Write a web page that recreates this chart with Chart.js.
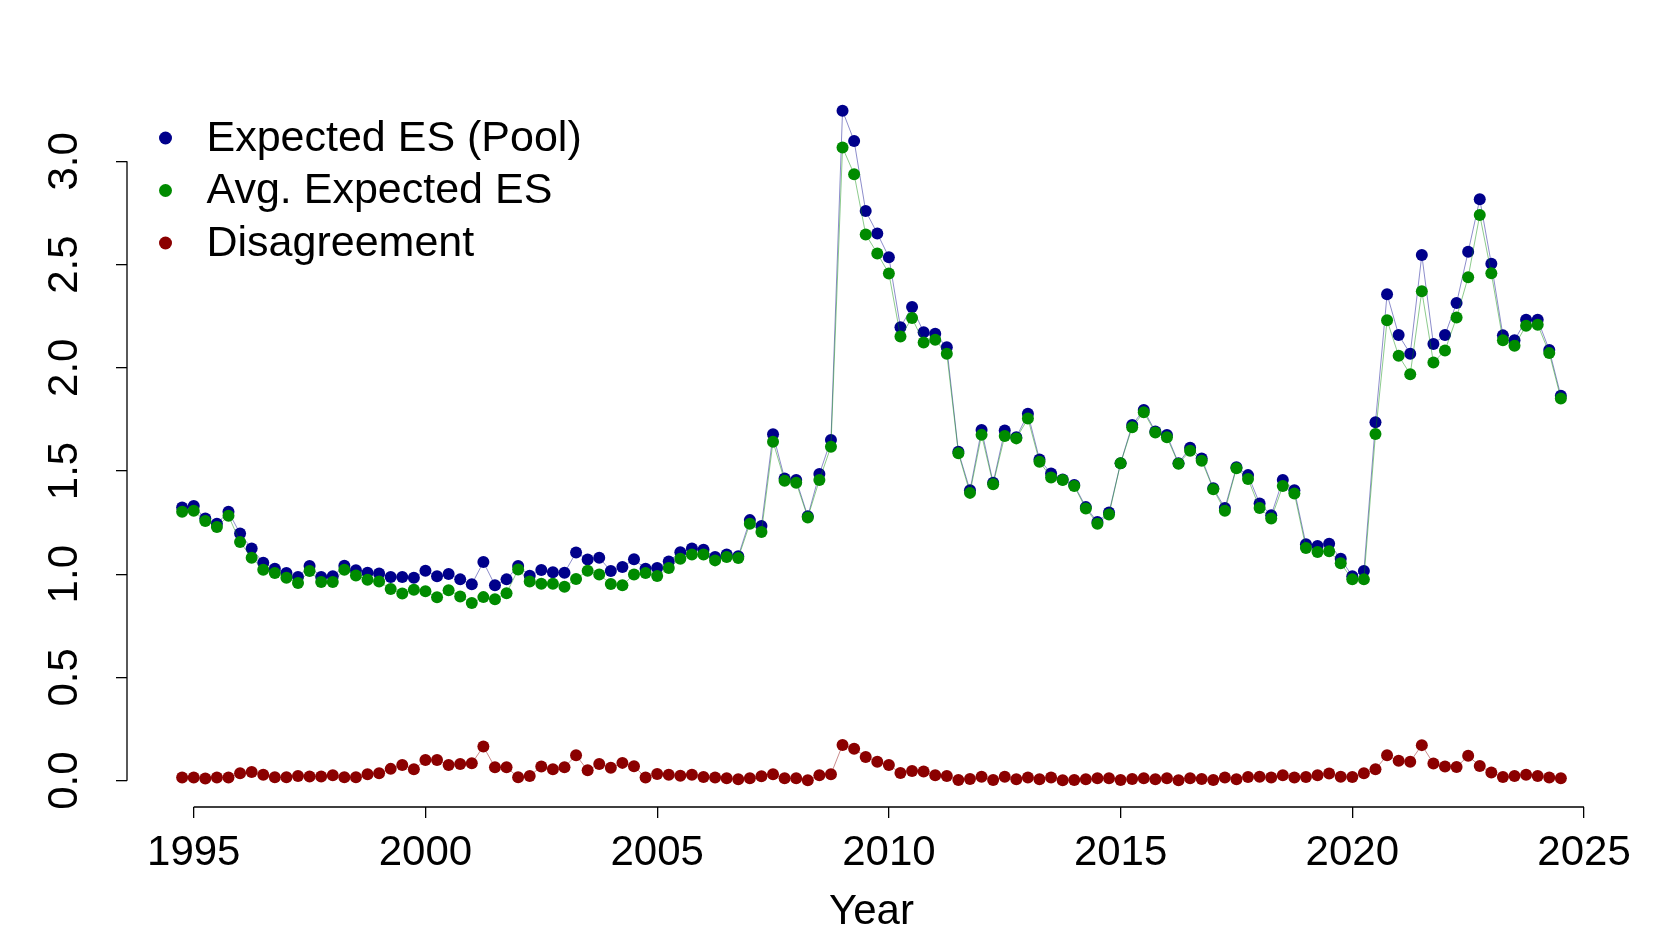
<!DOCTYPE html>
<html><head><meta charset="utf-8">
<script src="https://cdn.jsdelivr.net/npm/chart.js@4.4.1/dist/chart.umd.min.js"></script>
<style>html,body{margin:0;padding:0;background:#fff}canvas{display:block}</style>
</head><body>
<canvas id="c" width="1661" height="934"></canvas>
<script>
// Quarterly observation dates (decimal years)
const quarters = [
  1994.75,
  1995.00, 1995.25, 1995.50, 1995.75,
  1996.00, 1996.25, 1996.50, 1996.75,
  1997.00, 1997.25, 1997.50, 1997.75,
  1998.00, 1998.25, 1998.50, 1998.75,
  1999.00, 1999.25, 1999.50, 1999.75,
  2000.00, 2000.25, 2000.50, 2000.75,
  2001.00, 2001.25, 2001.50, 2001.75,
  2002.00, 2002.25, 2002.50, 2002.75,
  2003.00, 2003.25, 2003.50, 2003.75,
  2004.00, 2004.25, 2004.50, 2004.75,
  2005.00, 2005.25, 2005.50, 2005.75,
  2006.00, 2006.25, 2006.50, 2006.75,
  2007.00, 2007.25, 2007.50, 2007.75,
  2008.00, 2008.25, 2008.50, 2008.75,
  2009.00, 2009.25, 2009.50, 2009.75,
  2010.00, 2010.25, 2010.50, 2010.75,
  2011.00, 2011.25, 2011.50, 2011.75,
  2012.00, 2012.25, 2012.50, 2012.75,
  2013.00, 2013.25, 2013.50, 2013.75,
  2014.00, 2014.25, 2014.50, 2014.75,
  2015.00, 2015.25, 2015.50, 2015.75,
  2016.00, 2016.25, 2016.50, 2016.75,
  2017.00, 2017.25, 2017.50, 2017.75,
  2018.00, 2018.25, 2018.50, 2018.75,
  2019.00, 2019.25, 2019.50, 2019.75,
  2020.00, 2020.25, 2020.50, 2020.75,
  2021.00, 2021.25, 2021.50, 2021.75,
  2022.00, 2022.25, 2022.50, 2022.75,
  2023.00, 2023.25, 2023.50, 2023.75,
  2024.00, 2024.25, 2024.50
];

const expectedPool = [
  1.323,
  1.330, 1.270, 1.245, 1.302,
  1.197, 1.124, 1.056, 1.027,
  1.006, 0.986, 1.040, 0.986,
  0.990, 1.041, 1.019, 1.007,
  1.003, 0.986, 0.986, 0.983,
  1.017, 0.990, 1.001, 0.975,
  0.951, 1.059, 0.947, 0.975,
  1.040, 0.993, 1.020, 1.010,
  1.007, 1.105, 1.071, 1.080,
  1.015, 1.035, 1.072, 1.027,
  1.030, 1.062, 1.106, 1.124,
  1.119, 1.083, 1.095, 1.087,
  1.262, 1.234, 1.678, 1.464,
  1.456, 1.281, 1.485, 1.650,
  3.245, 3.099, 2.759, 2.651,
  2.536, 2.196, 2.295, 2.172,
  2.165, 2.099, 1.593, 1.407,
  1.699, 1.443, 1.696, 1.663,
  1.777, 1.556, 1.488, 1.459,
  1.432, 1.325, 1.253, 1.299,
  1.538, 1.723, 1.796, 1.691,
  1.674, 1.538, 1.613, 1.561,
  1.416, 1.321, 1.518, 1.480,
  1.343, 1.286, 1.456, 1.407,
  1.145, 1.137, 1.148, 1.075,
  0.990, 1.015, 1.736, 2.356,
  2.159, 2.068, 2.546, 2.115,
  2.159, 2.314, 2.562, 2.816,
  2.504, 2.157, 2.133, 2.233,
  2.233, 2.086, 1.864
];

const avgExpected = [
  1.302,
  1.307, 1.258, 1.229, 1.283,
  1.156, 1.080, 1.022, 1.006,
  0.983, 0.957, 1.015, 0.962,
  0.962, 1.022, 0.994, 0.973,
  0.965, 0.928, 0.907, 0.925,
  0.917, 0.888, 0.922, 0.892,
  0.860, 0.889, 0.879, 0.908,
  1.023, 0.965, 0.954, 0.954,
  0.939, 0.977, 1.017, 0.999,
  0.952, 0.946, 0.999, 1.006,
  0.991, 1.030, 1.075, 1.095,
  1.095, 1.067, 1.083, 1.079,
  1.245, 1.205, 1.642, 1.453,
  1.443, 1.275, 1.456, 1.618,
  3.067, 2.938, 2.646, 2.554,
  2.457, 2.152, 2.241, 2.123,
  2.136, 2.068, 1.586, 1.394,
  1.675, 1.436, 1.670, 1.658,
  1.754, 1.545, 1.469, 1.456,
  1.427, 1.318, 1.245, 1.289,
  1.537, 1.712, 1.785, 1.686,
  1.663, 1.535, 1.598, 1.550,
  1.412, 1.307, 1.513, 1.461,
  1.321, 1.270, 1.427, 1.391,
  1.127, 1.108, 1.111, 1.053,
  0.975, 0.975, 1.679, 2.230,
  2.058, 1.969, 2.371, 2.026,
  2.084, 2.244, 2.439, 2.740,
  2.458, 2.133, 2.107, 2.204,
  2.209, 2.071, 1.851
];

const disagreement = [
  0.015,
  0.015, 0.010, 0.015, 0.015,
  0.036, 0.042, 0.028, 0.016,
  0.016, 0.023, 0.020, 0.020,
  0.026, 0.016, 0.016, 0.031,
  0.036, 0.057, 0.076, 0.055,
  0.100, 0.100, 0.076, 0.081,
  0.084, 0.165, 0.065, 0.065,
  0.016, 0.023, 0.068, 0.055,
  0.065, 0.123, 0.050, 0.081,
  0.062, 0.086, 0.070, 0.015,
  0.032, 0.028, 0.024, 0.028,
  0.018, 0.015, 0.012, 0.007,
  0.012, 0.021, 0.031, 0.012,
  0.012, 0.002, 0.026, 0.031,
  0.173, 0.155, 0.115, 0.092,
  0.076, 0.037, 0.047, 0.044,
  0.026, 0.023, 0.003, 0.008,
  0.019, 0.003, 0.019, 0.007,
  0.015, 0.007, 0.015, 0.002,
  0.003, 0.007, 0.011, 0.012,
  0.003, 0.008, 0.012, 0.007,
  0.011, 0.002, 0.012, 0.008,
  0.003, 0.015, 0.007, 0.018,
  0.019, 0.015, 0.026, 0.015,
  0.018, 0.026, 0.034, 0.019,
  0.018, 0.036, 0.055, 0.123,
  0.096, 0.092, 0.172, 0.083,
  0.068, 0.066, 0.120, 0.071,
  0.039, 0.018, 0.023, 0.028,
  0.023, 0.015, 0.012
];

const seriesLabels = ['Expected ES (Pool)', 'Avg. Expected ES', 'Disagreement'];
const xTickValues = [1995, 2000, 2005, 2010, 2015, 2020, 2025];
const yTickValues = [0, 0.5, 1.0, 1.5, 2.0, 2.5, 3.0];
const xTitle = 'Year';

// ---- styling ----
const FONT = '"Liberation Sans", Arial, Helvetica, sans-serif';
const FS = 42;
const dotColors = ['#00008B', '#008B00', '#8B0000'];
const lineColors = ['rgba(0,0,139,0.45)', 'rgba(0,139,0,0.45)', 'rgba(139,0,0,0.45)'];

// R-style 4% axis extension
function extRange(arr) {
  const lo = Math.min(...arr), hi = Math.max(...arr), d = (hi - lo) * 0.04;
  return [lo - d, hi + d];
}
const [xMin, xMax] = extRange(quarters);
const [yMin, yMax] = extRange(expectedPool.concat(avgExpected, disagreement));

function pts(vals) { return vals.map((v, i) => ({x: quarters[i], y: v})); }
const seriesValues = [expectedPool, avgExpected, disagreement];

const datasets = seriesValues.map((vals, k) => ({
  label: seriesLabels[k],
  data: pts(vals),
  borderColor: lineColors[k],
  borderWidth: 1,
  backgroundColor: dotColors[k],
  pointBackgroundColor: dotColors[k],
  pointBorderWidth: 0,
  pointRadius: 6,
  pointHoverRadius: 6,
  tension: 0,
  order: 3 - k
}));

Chart.defaults.font.family = FONT;
Chart.defaults.color = '#000';

const axisLines = {
  id: 'axisLines',
  afterDraw(chart) {
    const {ctx, chartArea, scales: {x, y}} = chart;
    ctx.save();
    ctx.strokeStyle = '#000';
    ctx.lineWidth = 1.3;
    ctx.beginPath();
    const x0 = x.getPixelForValue(xTickValues[0]);
    const x1 = x.getPixelForValue(xTickValues[xTickValues.length - 1]);
    ctx.moveTo(x0, chartArea.bottom);
    ctx.lineTo(x1, chartArea.bottom);
    const y0 = y.getPixelForValue(yTickValues[0]);
    const y1 = y.getPixelForValue(yTickValues[yTickValues.length - 1]);
    ctx.moveTo(chartArea.left, y0);
    ctx.lineTo(chartArea.left, y1);
    ctx.stroke();

    // legend (top-left inside plot region)
    const lx = chartArea.left + 38.5, ly = chartArea.top + 54, step = 52.5;
    ctx.font = '43px ' + FONT;
    ctx.textBaseline = 'middle';
    ctx.textAlign = 'left';
    chart.data.datasets.forEach((ds, i) => {
      const cy = ly + i * step;
      ctx.fillStyle = ds.pointBackgroundColor;
      ctx.beginPath();
      ctx.arc(lx, cy, 6.5, 0, Math.PI * 2);
      ctx.fill();
      ctx.fillStyle = '#000';
      ctx.fillText(ds.label, lx + 41, cy + 1);
    });
    ctx.restore();
  }
};

new Chart(document.getElementById('c'), {
  type: 'line',
  data: {datasets},
  options: {
    responsive: false,
    animation: false,
    events: [],
    layout: {padding: {left: 0, right: 45, top: 84, bottom: 0}},
    plugins: {legend: {display: false}, tooltip: {enabled: false}},
    scales: {
      x: {
        type: 'linear',
        min: xMin, max: xMax,
        afterBuildTicks: s => { s.ticks = xTickValues.map(v => ({value: v})); },
        afterFit: s => { s.height = 127; },
        border: {display: false},
        grid: {display: true, drawOnChartArea: false, drawTicks: true, tickLength: 11, color: '#000', lineWidth: 1.3},
        ticks: {font: {size: FS}, color: '#000', padding: 10, maxRotation: 0, autoSkip: false,
                callback: v => String(v)},
        title: {display: true, text: xTitle, font: {size: FS, lineHeight: 1.0}, color: '#000', padding: {top: 0, bottom: 1}}
      },
      y: {
        type: 'linear',
        min: yMin, max: yMax,
        afterBuildTicks: s => { s.ticks = yTickValues.map(v => ({value: v})); },
        afterFit: s => { s.width = 127; },
        border: {display: false},
        grid: {display: true, drawOnChartArea: false, drawTicks: true, tickLength: 11, color: '#000', lineWidth: 1.3},
        ticks: {font: {size: FS}, color: '#000', padding: 21, minRotation: 90, maxRotation: 90,
                crossAlign: 'center', autoSkip: false, callback: v => Number(v).toFixed(1)}
      }
    }
  },
  plugins: [axisLines]
});
</script>
</body></html>
